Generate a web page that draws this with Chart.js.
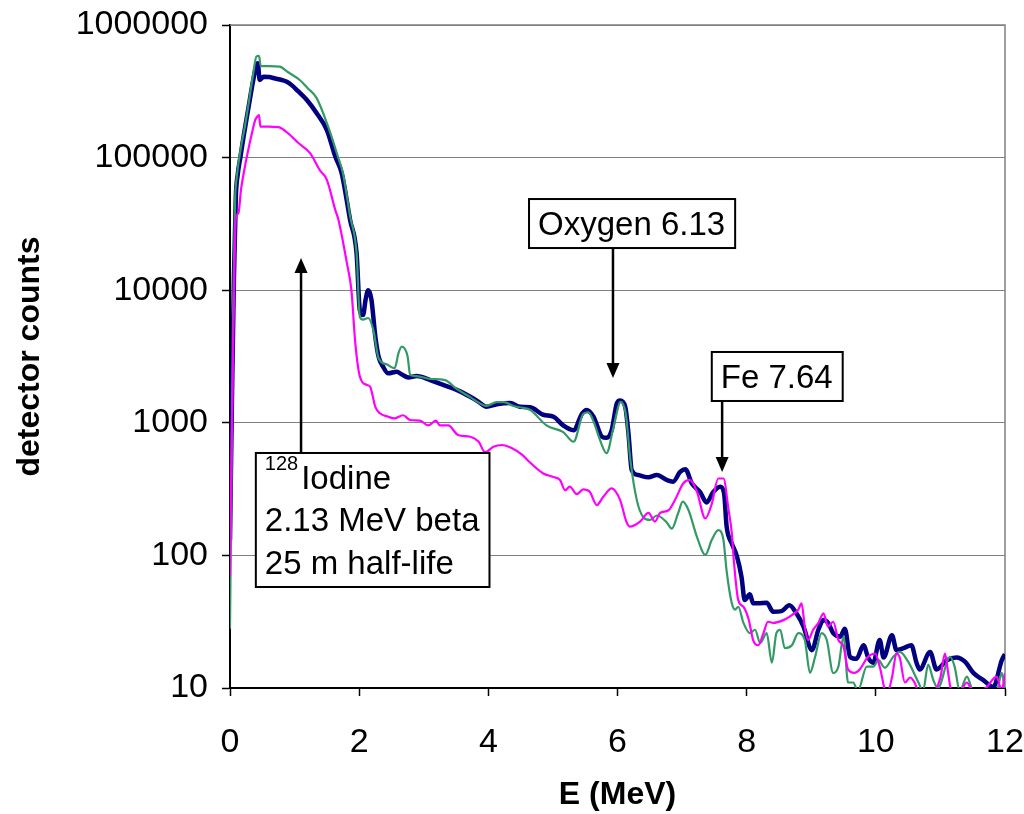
<!DOCTYPE html>
<html>
<head>
<meta charset="utf-8">
<script src="https://cdn.jsdelivr.net/npm/chart.js@4.4.1/dist/chart.umd.min.js"></script>
<style>
  html, body { margin: 0; padding: 0; background: #fff; }
  #wrap { width: 1024px; height: 814px; }
</style>
</head>
<body>
<div id="wrap"><canvas id="spectrum" width="1024" height="814"></canvas></div>
<script>
const FONT = 'Liberation Sans, Arial, Helvetica, sans-serif';

// thick navy spectrum
const spectrumAEnergy = [0, 0.03, 0.06, 0.09, 0.12, 0.16, 0.21, 0.28, 0.36, 0.41, 0.43, 0.46, 0.52, 0.6, 0.7, 0.8, 0.88, 0.955, 1.05, 1.19,
  1.34, 1.5, 1.63, 1.73, 1.86, 1.96, 2.01, 2.06, 2.1, 2.14, 2.19, 2.25, 2.3, 2.37, 2.45, 2.58, 2.67, 2.76, 2.89, 3.1,
  3.3, 3.51, 3.72, 3.85, 3.97, 4.13, 4.34, 4.49, 4.65, 4.85, 5.01, 5.16, 5.32, 5.45, 5.52, 5.63, 5.76, 5.83, 5.91, 5.99,
  6.04, 6.12, 6.17, 6.22, 6.32, 6.48, 6.61, 6.76, 6.86, 6.97, 7.05, 7.15, 7.28, 7.38, 7.48, 7.59, 7.65, 7.69, 7.77, 7.85,
  7.92, 7.97, 8.05, 8.1, 8.18, 8.31, 8.41, 8.54, 8.66, 8.77, 8.88, 9.01, 9.11, 9.19, 9.26, 9.34, 9.45, 9.52, 9.6, 9.7,
  9.81, 9.88, 9.96, 10.06, 10.12, 10.25, 10.32, 10.43, 10.55, 10.63, 10.68, 10.84, 10.94, 11.1, 11.25, 11.38, 11.51, 11.66, 11.82, 11.95, 12];
const spectrumACounts = [130, 1500, 12000, 50000, 75000, 100000, 144000, 229000, 385000, 500000, 514000, 385000, 407000, 405000, 395000, 385000, 373000, 352000, 318000, 272000,
  217000, 161000, 102000, 76000, 33800, 19000, 7100, 6500, 8500, 10000, 8500, 4470, 3160, 2650, 2360, 2430, 2300, 2200, 2250, 2100,
  1930, 1770, 1570, 1440, 1320, 1380, 1410, 1320, 1310, 1150, 1110, 955, 880, 1170, 1250, 1110, 785, 770, 880, 1400,
  1470, 1320, 830, 440, 404, 388, 404, 371, 360, 426, 447, 350, 300, 251, 300, 330, 295, 165, 123, 98,
  69, 46, 51, 43.5, 43.5, 44, 37.6, 38, 42, 36.6, 29, 19.3, 27.5, 32.5, 31, 25.9, 24.4, 28, 17.2, 16.6,
  21, 17, 15.5, 23, 17, 25, 19.3, 20, 21, 15.5, 13.8, 18.7, 13.8, 16.2, 17, 15.8, 13, 11.5, 10.2, 16.2, 18];

// thin green spectrum
const spectrumBEnergy = [0, 0.02, 0.05, 0.08, 0.1, 0.17, 0.23, 0.28, 0.36, 0.41, 0.45, 0.475, 0.6, 0.77, 0.9, 1.08, 1.2, 1.34, 1.52, 1.67,
  1.75, 1.86, 1.96, 2.01, 2.06, 2.14, 2.22, 2.3, 2.43, 2.55, 2.61, 2.66, 2.75, 2.79, 2.89, 3.1, 3.33, 3.51, 3.72, 3.85,
  3.97, 4.13, 4.24, 4.39, 4.52, 4.65, 4.9, 5.16, 5.32, 5.47, 5.55, 5.63, 5.73, 5.83, 5.94, 6.05, 6.13, 6.2, 6.3, 6.4,
  6.5, 6.61, 6.76, 6.84, 6.94, 7.01, 7.1, 7.23, 7.36, 7.46, 7.56, 7.64, 7.69, 7.77, 7.82, 7.87, 7.95, 8.05, 8.13, 8.21,
  8.31, 8.39, 8.46, 8.52, 8.59, 8.7, 8.8, 8.9, 8.98, 9.06, 9.16, 9.24, 9.34, 9.42, 9.5, 9.57, 9.65, 9.72, 9.86, 9.96,
  10.04, 10.14, 10.27, 10.37, 10.5, 10.66, 10.73, 10.81, 10.89, 10.96, 11.15, 11.22, 11.3, 11.41, 11.51, 11.87, 11.95, 12];
const spectrumBCounts = [28, 300, 8000, 50000, 68000, 120000, 171000, 241000, 433000, 580000, 585000, 490000, 490000, 485000, 440000, 385000, 335000, 282000, 171000, 102000,
  76000, 36000, 19000, 6300, 6000, 6170, 5000, 3080, 2750, 2580, 3370, 3750, 3160, 2290, 2250, 2140, 2100, 1800, 1560, 1420,
  1340, 1430, 1430, 1340, 1300, 1250, 955, 850, 720, 1170, 1200, 1020, 740, 590, 935, 1440, 1150, 520, 260, 194,
  185, 200, 178, 159, 209, 254, 219, 138, 101, 131, 155, 131, 76, 43.5, 39, 41, 31, 25.9, 27.5, 21.8,
  25.9, 15.5, 25.9, 27.5, 20, 21, 25.9, 23, 13, 17.2, 25.9, 23, 13, 14.5, 24.4, 11, 11, 9.5, 14.5, 14.5,
  16.2, 14.2, 17.2, 18.7, 15.8, 11, 9.5, 15, 11.5, 10, 17.2, 14.5, 9.5, 12.2, 9.5, 9.5, 13, 9.5];

// thin magenta spectrum
const spectrumCEnergy = [0, 0.03, 0.06, 0.09, 0.13, 0.17, 0.23, 0.26, 0.34, 0.39, 0.43, 0.45, 0.47, 0.6, 0.75, 0.93, 1.05, 1.24, 1.39, 1.5,
  1.63, 1.68, 1.81, 1.88, 1.94, 2.01, 2.12, 2.17, 2.25, 2.32, 2.45, 2.55, 2.68, 2.79, 2.94, 3.07, 3.19, 3.25, 3.38, 3.53,
  3.72, 3.85, 3.95, 4.08, 4.21, 4.36, 4.52, 4.65, 4.85, 5.01, 5.11, 5.19, 5.26, 5.37, 5.47, 5.57, 5.68, 5.78, 5.91, 6.04,
  6.14, 6.19, 6.35, 6.48, 6.58, 6.66, 6.79, 6.89, 7.02, 7.12, 7.23, 7.36, 7.46, 7.56, 7.64, 7.72, 7.77, 7.8, 7.87, 7.95,
  8.03, 8.1, 8.18, 8.26, 8.33, 8.41, 8.57, 8.7, 8.8, 8.85, 8.9, 8.95, 9.03, 9.11, 9.19, 9.26, 9.34, 9.42, 9.5, 9.57,
  9.67, 9.75, 9.88, 9.99, 10.06, 10.17, 10.25, 10.32, 10.37, 10.45, 10.53, 10.6, 10.66, 10.89, 11, 11.07, 11.12, 11.17, 11.3, 11.41,
  11.5, 11.7, 11.87, 11.95, 12];
const spectrumCCounts = [70, 1000, 8000, 35000, 38000, 57000, 85000, 101000, 153000, 192000, 205000, 209000, 171000, 171000, 170000, 148000, 130000, 108000, 80500, 68000,
  40300, 33800, 16000, 10000, 4000, 2240, 1930, 1870, 1320, 1180, 1110, 1080, 1140, 1050, 1040, 955, 1040, 955, 955, 810,
  785, 720, 600, 660, 680, 645, 575, 500, 415, 390, 370, 309, 330, 290, 315, 302, 240, 277, 320, 262,
  178, 165, 180, 209, 180, 209, 219, 262, 350, 371, 302, 190, 245, 380, 380, 220, 147, 93, 46, 41,
  33, 23, 21, 25.9, 31.6, 31, 32.5, 35.5, 39, 43.5, 29, 23, 27.5, 31, 36.6, 29, 31.6, 23, 20.5, 13.8,
  13, 13.8, 17.2, 18.2, 14.5, 9, 12, 18.2, 17, 11, 12, 11, 9.5, 9.5, 12, 18.2, 13, 9.5, 9.5, 11,
  9.5, 10, 12.2, 9.5, 13];

const yDecades = [10, 100, 1000, 10000, 100000, 1000000];
const xTickStep = 2;

// callout boxes: left edge / top edge in data units, arrow in data units
const notes = [
  { lines: [['', 'Oxygen 6.13']], left: 4.63, top: 48700, arrowX: 5.93, arrowTip: 2180 },
  { lines: [['', 'Fe 7.64']], left: 7.46, top: 3420, arrowX: 7.62, arrowTip: 426 },
  { lines: [['128', 'Iodine'], ['', '2.13 MeV beta'], ['', '25 m half-life']], left: 0.40, top: 592, arrowX: 1.10, arrowTip: 17500 },
];

function toPoints(energy, counts) {
  return energy.map((e, i) => ({ x: e, y: counts[i] }));
}

const frame = {
  id: 'frame',
  beforeDatasetsDraw(chart) {
    const { ctx, chartArea: a } = chart;
    ctx.save();
    ctx.strokeStyle = '#808080';
    ctx.lineWidth = 1.5;
    ctx.beginPath();
    ctx.moveTo(a.left, a.top);
    ctx.lineTo(a.right, a.top);
    ctx.lineTo(a.right, a.bottom);
    ctx.stroke();
    ctx.restore();
  },
};

const callouts = {
  id: 'callouts',
  afterDatasetsDraw(chart) {
    const { ctx, scales: { x, y } } = chart;
    const lineHeight = 42.5;
    const padL = 9, padR = 10, firstBaseline = 36, padBottom = 13;
    ctx.save();
    notes.forEach(note => {
      const widths = note.lines.map(([sup, text]) => {
        ctx.font = `20px ${FONT}`;
        const w1 = sup ? ctx.measureText(sup).width + 3 : 0;
        ctx.font = `33px ${FONT}`;
        return w1 + ctx.measureText(text).width;
      });
      const w = Math.max(...widths) + padL + padR;
      const h = firstBaseline + (note.lines.length - 1) * lineHeight + padBottom;
      const left = x.getPixelForValue(note.left);
      const top = y.getPixelForValue(note.top);

      // arrow
      const ax = x.getPixelForValue(note.arrowX);
      const tip = y.getPixelForValue(note.arrowTip);
      const base = tip > top ? top + h : top;
      const dir = tip > base ? 1 : -1;
      ctx.strokeStyle = '#000';
      ctx.fillStyle = '#000';
      ctx.lineWidth = 2.5;
      ctx.beginPath();
      ctx.moveTo(ax, base);
      ctx.lineTo(ax, tip - dir * 12);
      ctx.stroke();
      ctx.beginPath();
      ctx.moveTo(ax, tip);
      ctx.lineTo(ax - 6.5, tip - dir * 15);
      ctx.lineTo(ax + 6.5, tip - dir * 15);
      ctx.closePath();
      ctx.fill();

      // box
      ctx.fillStyle = '#fff';
      ctx.fillRect(left, top, w, h);
      ctx.lineWidth = 2;
      ctx.strokeRect(left, top, w, h);

      // text
      ctx.fillStyle = '#000';
      ctx.textAlign = 'left';
      ctx.textBaseline = 'alphabetic';
      note.lines.forEach(([sup, text], i) => {
        const by = top + firstBaseline + i * lineHeight;
        let tx = left + padL;
        if (sup) {
          ctx.font = `20px ${FONT}`;
          ctx.fillText(sup, tx, by - 19);
          tx += ctx.measureText(sup).width + 3;
        }
        ctx.font = `33px ${FONT}`;
        ctx.fillText(text, tx, by);
      });
    });
    ctx.restore();
  },
};

new Chart(document.getElementById('spectrum'), {
  type: 'line',
  data: {
    datasets: [
      {
        data: toPoints(spectrumCEnergy, spectrumCCounts),
        borderColor: '#ff00ff',
        borderWidth: 2.2,
        order: 1,
      },
      {
        data: toPoints(spectrumBEnergy, spectrumBCounts),
        borderColor: '#339966',
        borderWidth: 2.2,
        order: 2,
      },
      {
        data: toPoints(spectrumAEnergy, spectrumACounts),
        borderColor: '#000080',
        borderWidth: 4.5,
        order: 3,
      },
    ],
  },
  options: {
    responsive: false,
    animation: false,
    devicePixelRatio: 1,
    layout: { padding: { top: 25, right: 19, left: 0, bottom: 0 } },
    elements: {
      point: { radius: 0 },
      line: { tension: 0.4, cubicInterpolationMode: 'monotone', fill: false },
    },
    plugins: {
      legend: { display: false },
      tooltip: { enabled: false },
    },
    scales: {
      x: {
        type: 'linear',
        min: 0,
        max: 12,
        border: { color: '#000', width: 2 },
        grid: { drawOnChartArea: false, drawTicks: true, tickLength: 8, tickColor: '#000', tickWidth: 1.5 },
        ticks: { stepSize: xTickStep, color: '#000', padding: 26, font: { family: FONT, size: 34 }, maxRotation: 0 },
        title: { display: true, text: 'E (MeV)', color: '#000', padding: { top: 0, bottom: 0 }, font: { family: FONT, size: 32, weight: 'bold' } },
        afterFit(scale) {
          scale.height = 126;
          scale.paddingLeft = 0;
          scale.paddingRight = 0;
        },
      },
      y: {
        type: 'logarithmic',
        min: 10,
        max: 1000000,
        border: { color: '#000', width: 2 },
        grid: { color: '#808080', lineWidth: 1, tickLength: 8, tickColor: '#000', tickWidth: 1.5 },
        afterBuildTicks(scale) { scale.ticks = yDecades.map(v => ({ value: v })); },
        ticks: { color: '#000', padding: 14, font: { family: FONT, size: 34 }, callback: v => String(v) },
        title: { display: true, text: 'detector counts', color: '#000', padding: { top: 11, bottom: 0 }, font: { family: FONT, size: 32, weight: 'bold' } },
        afterFit(scale) {
          scale.width = 230;
          scale.paddingTop = 0;
          scale.paddingBottom = 0;
        },
      },
    },
  },
  plugins: [frame, callouts],
});
</script>
</body>
</html>
